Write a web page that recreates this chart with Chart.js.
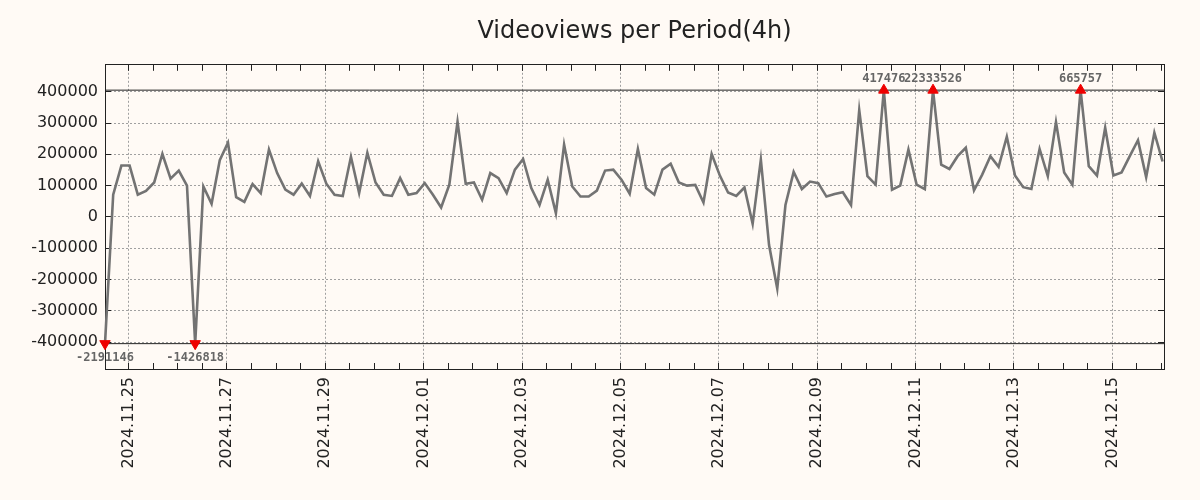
<!DOCTYPE html>
<html>
<head>
<meta charset="utf-8">
<title>Videoviews per Period(4h)</title>
<script src="https://cdn.jsdelivr.net/npm/chart.js@4.4.1/dist/chart.umd.min.js"></script>
<style>
    html, body { margin: 0; padding: 0; background: #fffaf5; }
    #wrap { width: 1200px; height: 500px; }
</style>
</head>
<body>
<div id="wrap"><canvas id="viewsChart" width="1200" height="500"></canvas></div>
<script>
// hours are counted from 2024.11.25 00:00
var dayZero = Date.UTC(2024, 10, 25);
var firstPeriodHour = -11.5;
var periodHours = 4;
var axisEndHour = 505.2;

// views per 4h period, outliers kept as they are
var periodViews = [
    -2191146, 71000, 164000, 164000, 71000, 83000, 110000, 201000, 122000, 148000,
    100000, -1426818, 97000, 42000, 181000, 237000, 63000, 48000, 105000, 76000,
    215000, 140000, 87000, 71000, 107000, 67000, 178000, 106000, 71000, 67000,
    192000, 76000, 205000, 110000, 71000, 67000, 124000, 71000, 76000, 108000,
    71000, 30000, 103000, 304000, 106000, 110000, 55000, 140000, 124000, 76000,
    151000, 185000, 92000, 38000, 119000, 12000, 231000, 97000, 65000, 65000,
    84000, 148000, 151000, 119000, 74000, 217000, 92000, 71000, 151000, 170000,
    110000, 100000, 102000, 46000, 201000, 132000, 78000, 67000, 94000, -22000,
    183000, -90000, -229000, 38000, 144000, 89000, 113000, 108000, 65000, 73000,
    79000, 38000, 341000, 130000, 103000, 417476, 87000, 100000, 215000, 103000,
    89000, 22333526, 167000, 153000, 194000, 221000, 85000, 135000, 194000, 160000,
    256000, 132000, 95000, 89000, 217000, 130000, 303000, 142000, 103000, 665757,
    162000, 132000, 285000, 132000, 142000, 194000, 245000, 127000, 269000, 177000
];

// values beyond the limit are drawn at the limit with a marker
var clipLimit = 405000;
var yLimit = 486000;
var yTickValues = [-400000, -300000, -200000, -100000, 0, 100000, 200000, 300000, 400000];

function clamp(v) {
    return Math.max(-clipLimit, Math.min(clipLimit, v));
}

function pad2(n) {
    return n < 10 ? '0' + n : '' + n;
}

function formatDay(h) {
    var d = new Date(dayZero + h * 3600000);
    return d.getUTCFullYear() + '.' + pad2(d.getUTCMonth() + 1) + '.' + pad2(d.getUTCDate());
}

var viewPoints = periodViews.map(function (v, i) {
    return { x: firstPeriodHour + i * periodHours, y: clamp(v) };
});

function isOutlier(i) {
    return Math.abs(periodViews[i]) > clipLimit;
}

function xTicks(scale) {
    var ticks = [];
    for (var h = 0; h <= axisEndHour; h += 12) {
        ticks.push({ value: h });
    }
    scale.ticks = ticks;
}

function yTicks(scale) {
    scale.ticks = yTickValues.map(function (v) { return { value: v }; });
}

var gridGray = '#a0a0a0';
var axisBlack = '#222222';

var pageBackground = {
    id: 'pageBackground',
    beforeDraw: function (chart) {
        var ctx = chart.ctx;
        ctx.save();
        ctx.fillStyle = '#fffaf5';
        ctx.fillRect(0, 0, chart.width, chart.height);
        ctx.restore();
    }
};

// prints the real value next to each clipped point
var outlierLabels = {
    id: 'outlierLabels',
    afterDatasetsDraw: function (chart) {
        var meta = chart.getDatasetMeta(0);
        var ctx = chart.ctx;
        ctx.save();
        ctx.font = 'bold 12px "DejaVu Sans Mono"';
        ctx.fillStyle = '#666666';
        ctx.textAlign = 'center';
        ctx.textBaseline = 'middle';
        periodViews.forEach(function (v, i) {
            if (!isOutlier(i)) return;
            var pt = meta.data[i];
            ctx.fillText(String(v), pt.x, v > 0 ? pt.y - 11 : pt.y + 14);
        });
        ctx.restore();
    }
};

var ctxViews = document.getElementById('viewsChart').getContext('2d');
var viewsChart = new Chart(ctxViews, {
    type: 'line',
    data: {
        datasets: [{
            label: 'Videoviews',
            data: viewPoints,
            borderColor: '#737373',
            borderWidth: 2.6,
            tension: 0,
            order: 0,
            clip: false,
            pointStyle: 'triangle',
            pointRadius: function (c) { return isOutlier(c.dataIndex) ? 6 : 0; },
            pointHoverRadius: function (c) { return isOutlier(c.dataIndex) ? 6 : 0; },
            pointRotation: function (c) { return periodViews[c.dataIndex] < 0 ? 180 : 0; },
            pointBackgroundColor: '#ee0000',
            pointBorderColor: '#ee0000',
            pointBorderWidth: 1
        }, {
            label: 'upper limit',
            data: [{ x: firstPeriodHour, y: clipLimit }, { x: axisEndHour, y: clipLimit }],
            borderColor: axisBlack,
            borderWidth: 1,
            pointRadius: 0,
            order: 1
        }, {
            label: 'lower limit',
            data: [{ x: firstPeriodHour, y: -clipLimit }, { x: axisEndHour, y: -clipLimit }],
            borderColor: axisBlack,
            borderWidth: 1,
            pointRadius: 0,
            order: 1
        }]
    },
    options: {
        responsive: false,
        devicePixelRatio: 1,
        animation: false,
        layout: {
            padding: { left: 0, right: 36, top: 0, bottom: 0 }
        },
        plugins: {
            legend: { display: false },
            tooltip: { enabled: false },
            title: {
                display: true,
                // only as wide as the plot, so it is centred over it
                fullSize: false,
                text: 'Videoviews per Period(4h)',
                color: '#222222',
                font: { family: 'DejaVu Sans', size: 24, weight: 'normal' },
                padding: { top: 17, bottom: 19 }
            }
        },
        scales: {
            x: {
                type: 'linear',
                position: 'bottom',
                min: firstPeriodHour,
                max: axisEndHour,
                afterBuildTicks: xTicks,
                afterFit: function (scale) { scale.height = 131; },
                grid: {
                    color: function (c) {
                        return c.tick && c.tick.value % 48 === 0 ? gridGray : 'rgba(0,0,0,0)';
                    },
                    tickColor: axisBlack,
                    tickLength: -6,
                    lineWidth: 1
                },
                border: { display: true, color: axisBlack, width: 1, dash: [2, 2] },
                ticks: {
                    autoSkip: false,
                    minRotation: 90,
                    maxRotation: 90,
                    padding: 14,
                    color: '#222222',
                    font: { family: 'DejaVu Sans', size: 16 },
                    callback: function (value) {
                        return value % 48 === 0 ? formatDay(value) : '';
                    }
                }
            },
            x2: {
                type: 'linear',
                position: 'top',
                min: firstPeriodHour,
                max: axisEndHour,
                afterBuildTicks: xTicks,
                afterFit: function (scale) { scale.height = 0; },
                grid: {
                    color: 'rgba(0,0,0,0)',
                    tickColor: axisBlack,
                    tickLength: -6
                },
                border: { display: true, color: axisBlack, width: 1 },
                ticks: { display: false }
            },
            y: {
                type: 'linear',
                position: 'left',
                min: -yLimit,
                max: yLimit,
                afterBuildTicks: yTicks,
                afterFit: function (scale) { scale.width = 105; },
                grid: {
                    color: gridGray,
                    tickColor: axisBlack,
                    tickLength: -6,
                    lineWidth: 1
                },
                border: { display: true, color: axisBlack, width: 1, dash: [2, 2] },
                ticks: {
                    padding: 13,
                    color: '#222222',
                    font: { family: 'DejaVu Sans', size: 16 },
                    callback: function (value) { return String(value); }
                }
            },
            y2: {
                type: 'linear',
                position: 'right',
                min: -yLimit,
                max: yLimit,
                afterBuildTicks: yTicks,
                afterFit: function (scale) { scale.width = 0; },
                grid: {
                    color: 'rgba(0,0,0,0)',
                    tickColor: axisBlack,
                    tickLength: -6
                },
                border: { display: true, color: axisBlack, width: 1 },
                ticks: { display: false }
            }
        }
    },
    plugins: [pageBackground, outlierLabels]
});
</script>
</body>
</html>
